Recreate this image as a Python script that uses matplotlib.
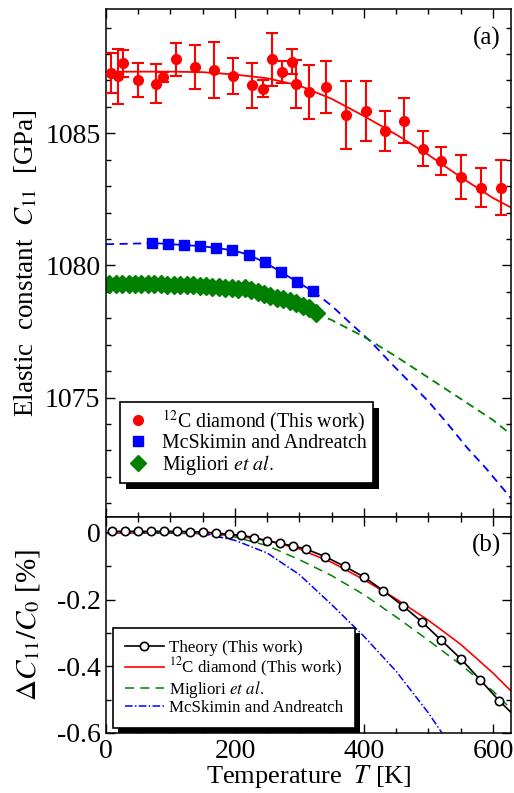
import numpy as np
import matplotlib
matplotlib.use("Agg")
import matplotlib.pyplot as plt
from matplotlib.patches import Rectangle
from matplotlib.lines import Line2D
from matplotlib.ticker import MultipleLocator, FuncFormatter

plt.rcParams["font.family"] = "serif"
plt.rcParams["font.serif"] = ["Liberation Serif", "DejaVu Serif"]
plt.rcParams["mathtext.fontset"] = "stix"
plt.rcParams["axes.unicode_minus"] = False

# ---- (a) elastic constant C11 vs temperature ----
red_T = [8, 18, 27, 50, 77, 88, 108, 138, 168, 197, 227, 243, 258, 273, 288, 294,
         314, 341, 372, 403, 432, 462, 491, 520, 551, 581, 612]
red_C = [1087.28, 1087.16, 1087.64, 1087.00, 1086.88, 1087.13, 1087.79, 1087.51,
         1087.39, 1087.17, 1086.82, 1086.69, 1087.80, 1087.32, 1087.70, 1086.86,
         1086.56, 1086.75, 1085.68, 1085.84, 1085.08, 1085.47, 1084.42, 1083.95,
         1083.35, 1082.94, 1082.94]
red_err = [0.75, 1.04, 0.50, 0.64, 0.74, 0.20, 0.61, 0.82, 1.07, 0.69, 0.85, 0.33,
           1.00, 0.41, 0.47, 0.90, 1.02, 0.97, 1.29, 1.14, 0.77, 0.85, 0.67, 0.52,
           0.84, 0.74, 1.04]
fit_T = [0, 50, 100, 150, 200, 250, 300, 350, 400, 450, 500, 550, 600, 628]
fit_C = [1087.32, 1087.33, 1087.33, 1087.31, 1087.22, 1087.08, 1086.80, 1086.30,
         1085.65, 1084.95, 1084.18, 1083.34, 1082.55, 1082.19]

mcs_T = [71, 96, 121, 146, 171, 196, 221, 246, 271, 296, 321]
mcs_C = [1080.85, 1080.81, 1080.77, 1080.73, 1080.66, 1080.57, 1080.41, 1080.11,
         1079.76, 1079.38, 1079.02]
mcs_low_T = [0, 71]
mcs_low_C = [1080.80, 1080.84]
mcs_ext_T = [321, 350, 380, 410, 440, 470, 500, 530, 560, 590, 628]
mcs_ext_C = [1079.02, 1078.47, 1077.79, 1077.13, 1076.35, 1075.60, 1074.85, 1074.00,
             1073.10, 1072.30, 1071.19]

mig_T = list(range(5, 330, 10))
mig_C = [1079.30, 1079.30, 1079.30, 1079.29, 1079.29, 1079.29, 1079.28, 1079.29,
         1079.28, 1079.27, 1079.27, 1079.26, 1079.25, 1079.24, 1079.23, 1079.22,
         1079.20, 1079.18, 1079.16, 1079.13, 1079.10, 1079.16, 1079.07, 1079.00,
         1078.93, 1078.86, 1078.78, 1078.71, 1078.64, 1078.56, 1078.48, 1078.37,
         1078.20]
mig_ext_T = [325, 350, 400, 450, 500, 550, 600, 628]
mig_ext_C = [1078.20, 1077.93, 1077.30, 1076.55, 1075.75, 1074.95, 1074.15, 1073.60]

# ---- (b) relative change ----
theory_T = [10, 30, 50, 70, 90, 110, 130, 150, 170, 190, 210, 230, 250, 270, 290, 310,
            340, 370, 400, 430, 460, 490, 520, 550, 580, 610]
theory_v = [0.005, 0.005, 0.005, 0.005, 0.005, 0.005, 0.004, 0.003, 0.000, -0.004,
            -0.007, -0.014, -0.024, -0.031, -0.039, -0.048, -0.071, -0.100, -0.132,
            -0.173, -0.218, -0.267, -0.322, -0.377, -0.440, -0.504]
theory_line_T = theory_T + [628]
theory_line_v = theory_v + [-0.538]

c12_T = [0, 100, 150, 200, 250, 300, 350, 400, 450, 500, 550, 600, 628]
c12_v = [0.0, 0.0, -0.002, -0.008, -0.022, -0.048, -0.088, -0.140, -0.198, -0.262,
         -0.334, -0.420, -0.474]
migb_T = [0, 100, 150, 200, 250, 300, 350, 400, 450, 500, 550, 600, 628]
migb_v = [0.0, 0.0, -0.003, -0.012, -0.038, -0.080, -0.128, -0.185, -0.252, -0.322,
          -0.395, -0.474, -0.528]
mcsb_T = [0, 140, 150, 200, 250, 300, 350, 400, 450, 500, 521]
mcsb_v = [0.0, 0.0, -0.002, -0.022, -0.060, -0.125, -0.215, -0.310, -0.415, -0.540,
          -0.600]

W, H = 514, 793
fig = plt.figure(figsize=(W / 100, H / 100), dpi=100)
x0, x1 = 106 / W, 511 / W
ax = fig.add_axes([x0, 1 - 517 / H, x1 - x0, (517 - 9) / H])
bx = fig.add_axes([x0, 1 - 733 / H, x1 - x0, (733 - 517) / H])

red, blue, green = "#ff0000", "#0000ff", "#008000"
dash = (0, (4.5, 3))

ax.plot(fit_T, fit_C, color=red, lw=1.3, zorder=2)
ax.errorbar(red_T, red_C, yerr=red_err, fmt="o", color=red, ms=7, elinewidth=1.5,
            capsize=4.5, capthick=1.5, zorder=3)
ax.plot(mcs_low_T, mcs_low_C, color=blue, lw=1.3, ls=dash)
ax.plot(mcs_ext_T, mcs_ext_C, color=blue, lw=1.3, ls=dash)
ax.plot(mcs_T, mcs_C, color=blue, lw=1.3)
ax.plot(mcs_T, mcs_C, "s", color=blue, ms=7, ls="none")
ax.plot(mig_ext_T, mig_ext_C, color=green, lw=1.3, ls=dash)
ax.plot(mig_T, mig_C, "D", color=green, ms=9, ls="none")

ax.set_xlim(0, 628)
ax.set_ylim(1070.48, 1089.7)
ax.yaxis.set_major_locator(MultipleLocator(5))
ax.yaxis.set_minor_locator(MultipleLocator(1))
ax.set_ylabel(r"Elastic  constant  $C_{11}$  [GPa]", fontsize=19.5)
ax.yaxis.set_label_coords(-0.165, 0.5)
ax.tick_params(labelbottom=False)
ax.text(0.94, 0.943, "(a)", transform=ax.transAxes, fontsize=18, ha="center", va="center")

bx.plot(theory_line_T, theory_line_v, color="k", lw=1.2, zorder=3)
bx.plot(theory_T, theory_v, "o", mfc="white", mec="k", mew=1.2, ms=6, zorder=4)
bx.plot(c12_T, c12_v, color=red, lw=1.2, zorder=2)
dash_b = (0, (6, 4))
dashdot_b = (0, (5, 1.5, 1, 1.5))
bx.plot(migb_T, migb_v, color=green, lw=1.1, ls=dash_b, zorder=2)
bx.plot(mcsb_T, mcsb_v, color=blue, lw=1.1, ls=dashdot_b, zorder=2)

bx.set_xlim(0, 628)
bx.set_ylim(-0.6, 0.048)
bx.yaxis.set_major_locator(MultipleLocator(0.2))
bx.yaxis.set_minor_locator(MultipleLocator(0.1))
bx.yaxis.set_major_formatter(FuncFormatter(lambda v, p: "0" if abs(v) < 1e-9 else f"{v:.1f}"))
bx.set_ylabel(r"$\Delta C_{11}/C_0$ [%]", fontsize=21)
bx.yaxis.set_label_coords(-0.158, 0.5)
bx.set_xlabel(r"Temperature  $T$ [K]", fontsize=19)
bx.xaxis.set_label_coords(0.5, -0.14)
bx.text(0.94, 0.87, "(b)", transform=bx.transAxes, fontsize=18, ha="center", va="center")

for a in (ax, bx):
    a.xaxis.set_major_locator(MultipleLocator(200))
    a.xaxis.set_minor_locator(MultipleLocator(50))
    a.tick_params(which="both", direction="in", top=True, right=True, width=1.0,
                  labelsize=20, pad=4)
    a.tick_params(which="major", length=6.5)
    a.tick_params(which="minor", length=3.5)
    for s in a.spines.values():
        s.set_linewidth(1.1)

h_a = [Line2D([], [], ls="none", marker="o", color=red, ms=7),
       Line2D([], [], ls="none", marker="s", color=blue, ms=7),
       Line2D([], [], ls="none", marker="D", color=green, ms=8)]
lab_a = [r"$^{12}$C diamond (This work)", "McSkimin and Andreatch", r"Migliori $et$ $al.$"]
leg_a = ax.legend(h_a, lab_a, loc="upper left", bbox_to_anchor=(0.035, 0.226),
                  borderaxespad=0, fontsize=14.3, frameon=True, fancybox=False,
                  framealpha=1, edgecolor="k", handlelength=1.2, handletextpad=0.6,
                  labelspacing=0.0, borderpad=0.3, numpoints=1)

h_b = [Line2D([], [], color="k", lw=1.2, marker="o", mfc="white", mec="k", mew=1.2, ms=6),
       Line2D([], [], color=red, lw=1.2),
       Line2D([], [], color=green, lw=1.1, ls=dash_b),
       Line2D([], [], color=blue, lw=1.1, ls=dashdot_b)]
lab_b = ["Theory (This work)", r"$^{12}$C diamond (This work)", r"Migliori $et$ $al.$",
         "McSkimin and Andreatch"]
leg_b = bx.legend(h_b, lab_b, loc="upper left", bbox_to_anchor=(0.017, 0.486),
                  borderaxespad=0, fontsize=12.2, frameon=True, fancybox=False,
                  framealpha=1, edgecolor="k", handlelength=2.3, handletextpad=0.3,
                  labelspacing=0.0, borderpad=0.7, numpoints=1)
for leg in (leg_a, leg_b):
    leg.get_frame().set_linewidth(1.2)
    leg.set_zorder(6)

# hard black drop shadow behind the legend boxes
fig.canvas.draw()
for a, leg, off in ((ax, leg_a, 6), (bx, leg_b, 5)):
    bb = leg.get_frame().get_window_extent()
    inv = a.transAxes.inverted()
    (ax0, ay0), (ax1, ay1) = inv.transform([[bb.x0 + off, bb.y0 - off],
                                            [bb.x1 + off, bb.y1 - off]])
    a.add_patch(Rectangle((ax0, ay0), ax1 - ax0, ay1 - ay0, transform=a.transAxes,
                          facecolor="k", edgecolor="none", zorder=5.5, clip_on=False))

fig.savefig("out.png", dpi=100)
